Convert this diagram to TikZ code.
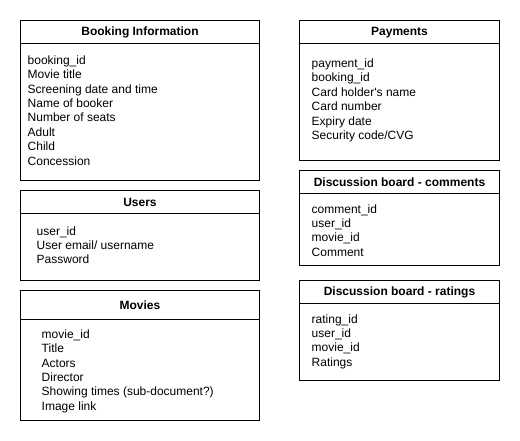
\documentclass[tikz,border=0pt]{standalone}
\usepackage{fontspec}
\newfontfamily\arialfont{Liberation Sans}
\begin{document}
\begin{tikzpicture}[x=1pt,y=-1pt,
  box/.style={draw=black,line width=1pt},
  title/.style={font=\arialfont\fontsize{12}{14.4}\selectfont\bfseries,inner sep=0pt,anchor=center},
  body/.style={font=\arialfont\fontsize{12}{14.4}\selectfont,inner sep=0pt,anchor=base west,align=left}]
\useasboundingbox[fill=white] (0,0) rectangle (520,441);
% Booking Information
\draw[box] (20.5,20.5) rectangle (259.5,180.5);
\draw[box] (20.5,43.5) -- (259.5,43.5);
\node[title] (bookT) at (140,32.5) {Booking Information};
\node[body] (bookB) at (27.5,165.1) {booking\_id\\Movie title\\Screening date and time\\Name of booker\\Number of seats\\Adult\\Child\\Concession};
% Users
\draw[box] (20.5,190.5) rectangle (259.5,280.5);
\draw[box] (20.5,213.5) -- (259.5,213.5);
\node[title] (usersT) at (140,202.5) {Users};
\node[body] (usersB) at (36.5,263.8) {user\_id\\User email/ username\\Password};
% Movies
\draw[box] (20.5,290.5) rectangle (259.5,420.5);
\draw[box] (20.5,319.5) -- (259.5,319.5);
\node[title] (moviesT) at (140,305.5) {Movies};
\node[body] (moviesB) at (41.5,410.3) {movie\_id\\Title\\Actors\\Director\\Showing times (sub-document?)\\Image link};
% Payments
\draw[box] (299.5,20.5) rectangle (499.5,160.5);
\draw[box] (299.5,43.5) -- (499.5,43.5);
\node[title] (payT) at (399.5,32.5) {Payments};
\node[body] (payB) at (311.5,139.5) {payment\_id\\booking\_id\\Card holder's name\\Card number\\Expiry date\\Security code/CVG};
% Comments
\draw[box] (299.5,170.5) rectangle (499.5,265.5);
\draw[box] (299.5,193.5) -- (499.5,193.5);
\node[title] (comT) at (399.5,182.5) {Discussion board - comments};
\node[body] (comB) at (311.5,256.3) {comment\_id\\user\_id\\movie\_id\\Comment};
% Ratings
\draw[box] (299.5,280.5) rectangle (499.5,380.5);
\draw[box] (299.5,303.5) -- (499.5,303.5);
\node[title] (ratT) at (399.5,292.5) {Discussion board - ratings};
\node[body] (ratB) at (311.5,366.2) {rating\_id\\user\_id\\movie\_id\\Ratings};
\end{tikzpicture}
\end{document}
